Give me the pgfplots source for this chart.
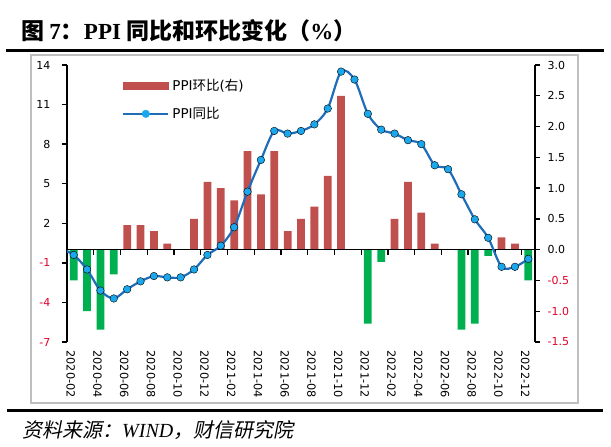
\documentclass[border=0pt]{standalone}
\usepackage{pgfplots}
\pgfplotsset{compat=1.18}
\usepackage{pgfplotstable}
\usepackage{fontspec}
\setmainfont{DejaVu Sans}
\newfontfamily\cjk{Noto Sans CJK SC}
\newfontfamily\cjkit[FakeSlant=0.2]{Noto Sans CJK SC}
\newfontfamily\tnr{Liberation Serif}
\definecolor{barred}{HTML}{C0504D}
\definecolor{bargreen}{HTML}{00B050}
\definecolor{linedark}{HTML}{1F6DB8}
\definecolor{mk}{HTML}{1AA7EC}
\definecolor{negred}{HTML}{E0002A}
\definecolor{framegray}{HTML}{BFBFBF}

\pgfplotstableread{
x yoy pos neg
-1 0.1 nan nan
0 -0.4 nan -0.5
1 -1.5 nan -1.0
2 -3.1 nan -1.3
3 -3.7 nan -0.4
4 -3.0 0.4 nan
5 -2.4 0.4 nan
6 -2.0 0.3 nan
7 -2.1 0.1 nan
8 -2.1 nan nan
9 -1.5 0.5 nan
10 -0.4 1.1 nan
11 0.3 1.0 nan
12 1.7 0.8 nan
13 4.4 1.6 nan
14 6.8 0.9 nan
15 9.0 1.6 nan
16 8.8 0.3 nan
17 9.0 0.5 nan
18 9.5 0.7 nan
19 10.7 1.2 nan
20 13.5 2.5 nan
21 12.9 nan nan
22 10.3 nan -1.2
23 9.1 nan -0.2
24 8.8 0.5 nan
25 8.3 1.1 nan
26 8.0 0.6 nan
27 6.4 0.1 nan
28 6.1 nan nan
29 4.2 nan -1.3
30 2.3 nan -1.2
31 0.9 nan -0.1
32 -1.3 0.2 nan
33 -1.3 0.1 nan
34 -0.7 nan -0.5
}\data

\begin{document}
\begin{tikzpicture}
\path[use as bounding box] (0,0) rectangle (611pt,-447pt);
% frame and rules
\draw[framegray, line width=1.2pt] (31pt,-55pt) rectangle (578pt,-403pt);
\draw[black, line width=3pt] (6pt,-50.5pt) -- (604pt,-50.5pt);
\draw[black, line width=3pt] (7pt,-410pt) -- (603pt,-410pt);
\node[anchor=west, inner sep=0pt] at (21pt,-31pt) {\fontsize{23}{25}\selectfont\cjk\bfseries 图 {\tnr\bfseries 7}：{\tnr\bfseries PPI} 同比和环比变化（{\tnr\bfseries\%}）};
\node[anchor=west, inner sep=0pt] at (22pt,-430pt) {\fontsize{20}{22}\selectfont\cjkit 资料来源：{\tnr\itshape WIND}，财信研究院};

% bars, right axis
\begin{axis}[
  at={(67pt,-342pt)}, anchor=south west, scale only axis,
  width=468pt, height=277pt,
  xmin=-0.5, xmax=34.5, ymin=-1.5, ymax=3,
  axis y line*=right, axis x line*=middle, axis on top,
  axis line style={line width=1.3pt, black, -},
  xtick={1.5,3.5,...,33.5}, xticklabels={},
  tick align=outside, major tick length=5pt,
  tick style={line width=1.3pt, black},
  ytick={-1.5,-1,-0.5,0,0.5,1,1.5,2,2.5,3},
  yticklabels={\textcolor{negred}{-1.5},\textcolor{negred}{-1.0},\textcolor{negred}{-0.5},0.0,0.5,1.0,1.5,2.0,2.5,3.0},
  yticklabel style={font=\fontsize{11}{13}\selectfont, anchor=west, xshift=4pt},
]
\addplot[ybar, bar width=0.58, bar shift=0pt, fill=barred, draw=none] table[x=x, y=pos]{\data};
\addplot[ybar, bar width=0.58, bar shift=0pt, fill=bargreen, draw=none] table[x=x, y=neg]{\data};
\end{axis}

% line, left axis
\begin{axis}[
  at={(67pt,-342pt)}, anchor=south west, scale only axis,
  width=468pt, height=277pt,
  xmin=-0.5, xmax=34.5, ymin=-7, ymax=14,
  axis y line*=left, axis x line*=bottom,
  x axis line style={draw=none},
  y axis line style={line width=1.3pt, black, -},
  xtick={0,2,...,34},
  xticklabels={2020-02,2020-04,2020-06,2020-08,2020-10,2020-12,2021-02,2021-04,2021-06,2021-08,2021-10,2021-12,2022-02,2022-04,2022-06,2022-08,2022-10,2022-12},
  xticklabel style={rotate=-90, anchor=west, font=\fontsize{11.3}{13}\selectfont, yshift=-3pt},
  xtick style={draw=none},
  ytick={-7,-4,-1,2,5,8,11,14},
  yticklabels={\textcolor{negred}{-7},\textcolor{negred}{-4},\textcolor{negred}{-1},2,5,8,11,14},
  yticklabel style={font=\fontsize{11}{13}\selectfont, anchor=east, xshift=-8pt},
  ytick style={line width=1.3pt, black},
  tick align=outside, major tick length=5pt,
  legend style={draw=none, fill=none, at={(0.1175,0.948)}, anchor=north west,
    inner sep=0pt, row sep=15pt, column sep=3pt, font=\fontsize{13.5}{15}\selectfont,
    nodes={inner sep=0pt}},
  legend cell align=left,
]
\addlegendimage{legend image code/.code={\fill[barred] (0pt,-3.5pt) rectangle (45pt,3.5pt);}}
\addlegendentry{PPI{\cjk 环比}({\cjk 右})}
\addlegendimage{legend image code/.code={\draw[linedark, line width=2.2pt] (0pt,0pt) -- (45pt,0pt); \fill[mk] (22.5pt,0pt) circle (3.8pt);}}
\addlegendentry{PPI{\cjk 同比}}
\addplot[forget plot, linedark, line width=2.2pt, smooth, tension=0.5, no marks] table[x=x, y=yoy]{\data};
\addplot[forget plot, only marks, mark=*, mark size=3.8pt, mark options={fill=mk, draw=none}, skip coords between index={0}{1}] table[x=x, y=yoy]{\data};
\end{axis}
\end{tikzpicture}
\end{document}
